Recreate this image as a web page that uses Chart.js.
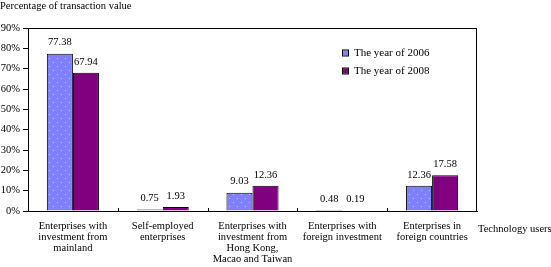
<!DOCTYPE html>
<html>
<head>
<meta charset="utf-8">
<style>
  html, body { margin: 0; padding: 0; background: #fff; }
  #wrap { width: 551px; height: 267px; }
</style>
<script src="https://cdn.jsdelivr.net/npm/chart.js"></script>
</head>
<body>
<div id="wrap"><canvas id="chart" width="551" height="267"></canvas></div>
<script>
// data
const categories = [
  ['Enterprises with', 'investment from', 'mainland'],
  ['Self-employed', 'enterprises'],
  ['Enterprises with', 'investment from', 'Hong Kong,', 'Macao and Taiwan'],
  ['Enterprises with', 'foreign investment'],
  ['Enterprises in', 'foreign countries']
];
const year2006 = [77.38, 0.75, 9.03, 0.48, 12.36];
const year2008 = [67.94, 1.93, 12.36, 0.19, 17.58];
const seriesNames = ['The year of 2006', 'The year of 2008'];
const yTicks = [0, 10, 20, 30, 40, 50, 60, 70, 80, 90];

const serif = "'Liberation Serif', 'DejaVu Serif', serif";
const blue = '#8080ff';
const purple = '#800080';

// dotted fill like the original 2006 bars
function dotPattern() {
  const c = document.createElement('canvas');
  c.width = 8; c.height = 8;
  const g = c.getContext('2d');
  g.fillStyle = blue;
  g.fillRect(0, 0, 8, 8);
  g.fillStyle = '#c9c7a8';
  g.fillRect(1, 2, 1, 1);
  g.fillRect(5, 6, 1, 1);
  return g.createPattern(c, 'repeat');
}

const extras = {
  id: 'extras',
  afterDraw(chart) {
    const ctx = chart.ctx;
    const a = chart.chartArea;
    const x = chart.scales.x;
    ctx.save();
    // frame around plot area
    ctx.strokeStyle = '#000';
    ctx.lineWidth = 1;
    ctx.strokeRect(Math.round(a.left) + 0.5, Math.round(a.top) + 0.5,
      Math.round(a.right - a.left) - 1, Math.round(a.bottom - a.top));
    // inward tick marks between categories
    ctx.beginPath();
    for (let i = 1; i < categories.length; i++) {
      const px = Math.round((x.getPixelForValue(i - 1) + x.getPixelForValue(i)) / 2) + 0.5;
      ctx.moveTo(px, a.bottom);
      ctx.lineTo(px, a.bottom - 3);
    }
    ctx.stroke();

    // value labels
    ctx.fillStyle = '#000';
    ctx.font = '10.5px ' + serif;
    ctx.textAlign = 'center';
    ctx.textBaseline = 'middle';
    chart.data.datasets.forEach((ds, di) => {
      chart.getDatasetMeta(di).data.forEach((el, i) => {
        ctx.fillText(ds.data[i].toFixed(2), el.x, el.y - 11);
      });
    });

    // legend
    ctx.textAlign = 'left';
    ctx.font = '11px ' + serif;
    chart.data.datasets.forEach((ds, di) => {
      const ly = a.top + 25 + di * 18;
      const lx = a.left + 315;
      ctx.fillStyle = di === 0 ? blue : purple;
      ctx.fillRect(lx, ly - 2.5, 5, 5);
      ctx.strokeStyle = '#000';
      ctx.strokeRect(lx - 0.5, ly - 3, 6, 6);
      ctx.fillStyle = '#000';
      ctx.fillText(ds.label, lx + 11, ly);
    });

    // titles
    ctx.font = '10.5px ' + serif;
    ctx.fillText('Percentage of transaction value', 0, 6);
    ctx.fillText('Technology users', a.right + 1, a.bottom + 18);
    ctx.restore();
  }
};

new Chart(document.getElementById('chart'), {
  type: 'bar',
  data: {
    labels: categories,
    datasets: [
      {
        label: seriesNames[0],
        data: year2006,
        backgroundColor: dotPattern(),
        borderColor: '#000',
        borderWidth: 1
      },
      {
        label: seriesNames[1],
        data: year2008,
        backgroundColor: purple,
        borderColor: '#000',
        borderWidth: 1
      }
    ]
  },
  options: {
    responsive: false,
    animation: false,
    layout: { padding: { top: 28, right: 74, left: 0, bottom: 0 } },
    datasets: { bar: { categoryPercentage: 0.58, barPercentage: 1 } },
    plugins: {
      legend: { display: false },
      tooltip: { enabled: false }
    },
    scales: {
      x: {
        grid: { display: false, drawTicks: false },
        border: { color: '#000' },
        afterFit: s => { s.height = 56; },
        ticks: {
          color: '#000',
          padding: 10,
          maxRotation: 0,
          autoSkip: false,
          font: { family: serif, size: 10.5, lineHeight: 1.05 }
        }
      },
      y: {
        min: 0,
        max: 90,
        afterFit: s => { s.width = 28; },
        afterBuildTicks: s => { s.ticks = yTicks.map(v => ({ value: v })); },
        grid: { drawOnChartArea: false, drawTicks: true, tickLength: 5, color: '#000' },
        border: { color: '#000' },
        ticks: {
          color: '#000',
          padding: 3,
          font: { family: serif, size: 10.5 },
          callback: v => v + '%'
        }
      }
    }
  },
  plugins: [extras]
});
</script>
</body>
</html>
